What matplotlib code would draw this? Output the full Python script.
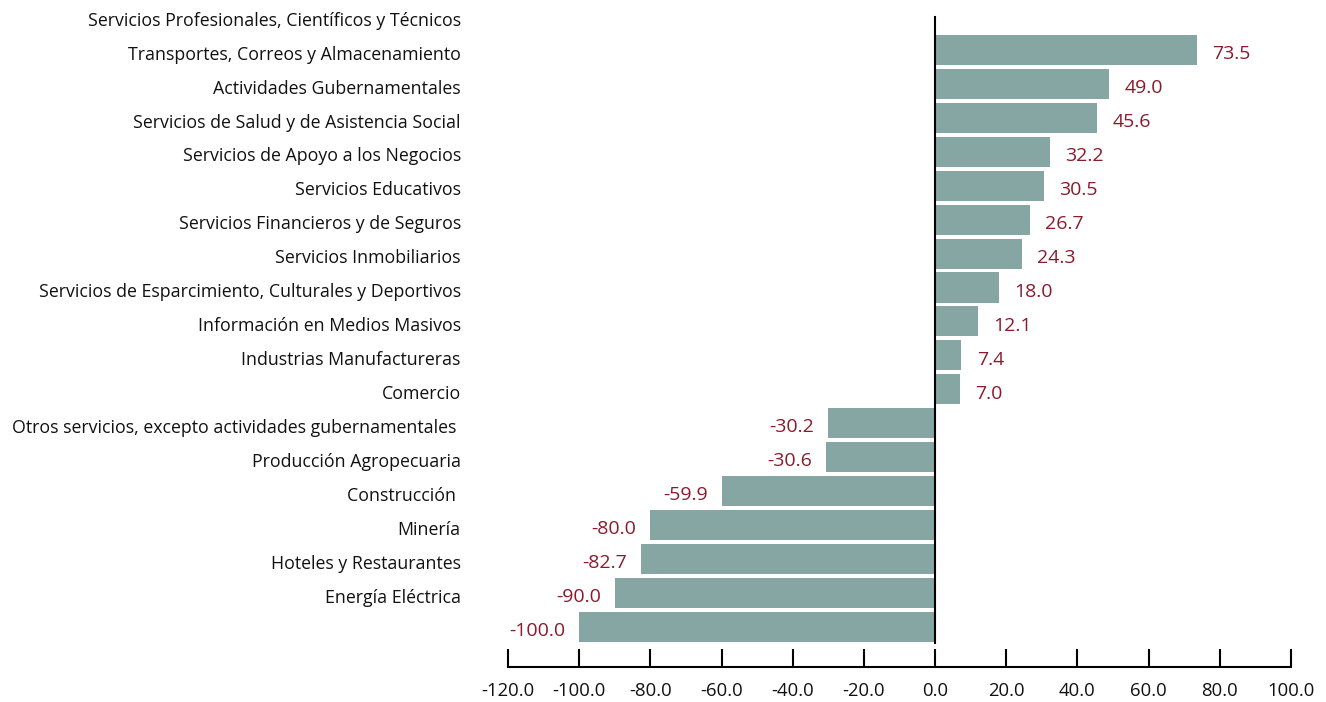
import matplotlib
matplotlib.use("Agg")
import matplotlib.pyplot as plt
from matplotlib.transforms import offset_copy

plt.rcParams['font.family'] = ['Open Sans', 'DejaVu Sans']

categories = [
    "Servicios Profesionales, Científicos y Técnicos",
    "Transportes, Correos y Almacenamiento",
    "Actividades Gubernamentales",
    "Servicios de Salud y de Asistencia Social",
    "Servicios de Apoyo a los Negocios",
    "Servicios Educativos",
    "Servicios Financieros y de Seguros",
    "Servicios Inmobiliarios",
    "Servicios de Esparcimiento, Culturales y Deportivos",
    "Información en Medios Masivos",
    "Industrias Manufactureras",
    "Comercio",
    "Otros servicios, excepto actividades gubernamentales ",
    "Producción Agropecuaria",
    "Construcción ",
    "Minería",
    "Hoteles y Restaurantes",
    "Energía Eléctrica",
]
values = [73.5, 49.0, 45.6, 32.2, 30.5, 26.7, 24.3, 18.0, 12.1, 7.4, 7.0,
          -30.2, -30.6, -59.9, -80.0, -82.7, -90.0, -100.0]
xticks = [-120, -100, -80, -60, -40, -20, 0, 20, 40, 60, 80, 100]

BAR = "#85a6a3"
RED = "#8b1a2b"
FS_CAT = 12.8
FS_TICK = 13.3
FS_VAL = 14

fig = plt.figure(figsize=(13.26, 7.02), dpi=100)
ax = fig.add_axes([508/1326, 35/702, (1291-508)/1326, 667/702])

# bars are drawn one row below their (as-published) category label
bar_pos = [i + 1 for i in range(len(values))]
ax.barh(bar_pos, values, height=0.885, color=BAR, zorder=2)

ax.set_xlim(-120, 100)
ax.set_ylim(19.18, -0.47)

ax.set_yticks([i + 0.08 for i in range(len(categories))])
ax.set_yticklabels(categories, fontsize=FS_CAT, color="#111111")
ax.tick_params(axis='y', length=0, pad=34)

ax.set_xticks(xticks)
ax.set_xticklabels([f"{t:.1f}" for t in xticks], fontsize=FS_TICK, color="#111111")
ax.tick_params(axis='x', direction='in', length=13, width=1.5, pad=10.5, color='black')

for s in ['left', 'right', 'top']:
    ax.spines[s].set_visible(False)
ax.spines['bottom'].set_linewidth(1.5)

ax.axvline(0, ymin=(667-643)/667, ymax=(667-17)/667, color='black', lw=1.5, zorder=3)

for p, v in zip(bar_pos, values):
    if v >= 0:
        tr = offset_copy(ax.transData, fig=fig, x=11, y=-3, units='points')
        ax.text(v, p, f"{v:.1f}", transform=tr, ha='left', va='center', fontsize=FS_VAL, color=RED)
    else:
        tr = offset_copy(ax.transData, fig=fig, x=-10, y=-3, units='points')
        ax.text(v, p, f"{v:.1f}", transform=tr, ha='right', va='center', fontsize=FS_VAL, color=RED)

fig.savefig("out.png", dpi=100)
